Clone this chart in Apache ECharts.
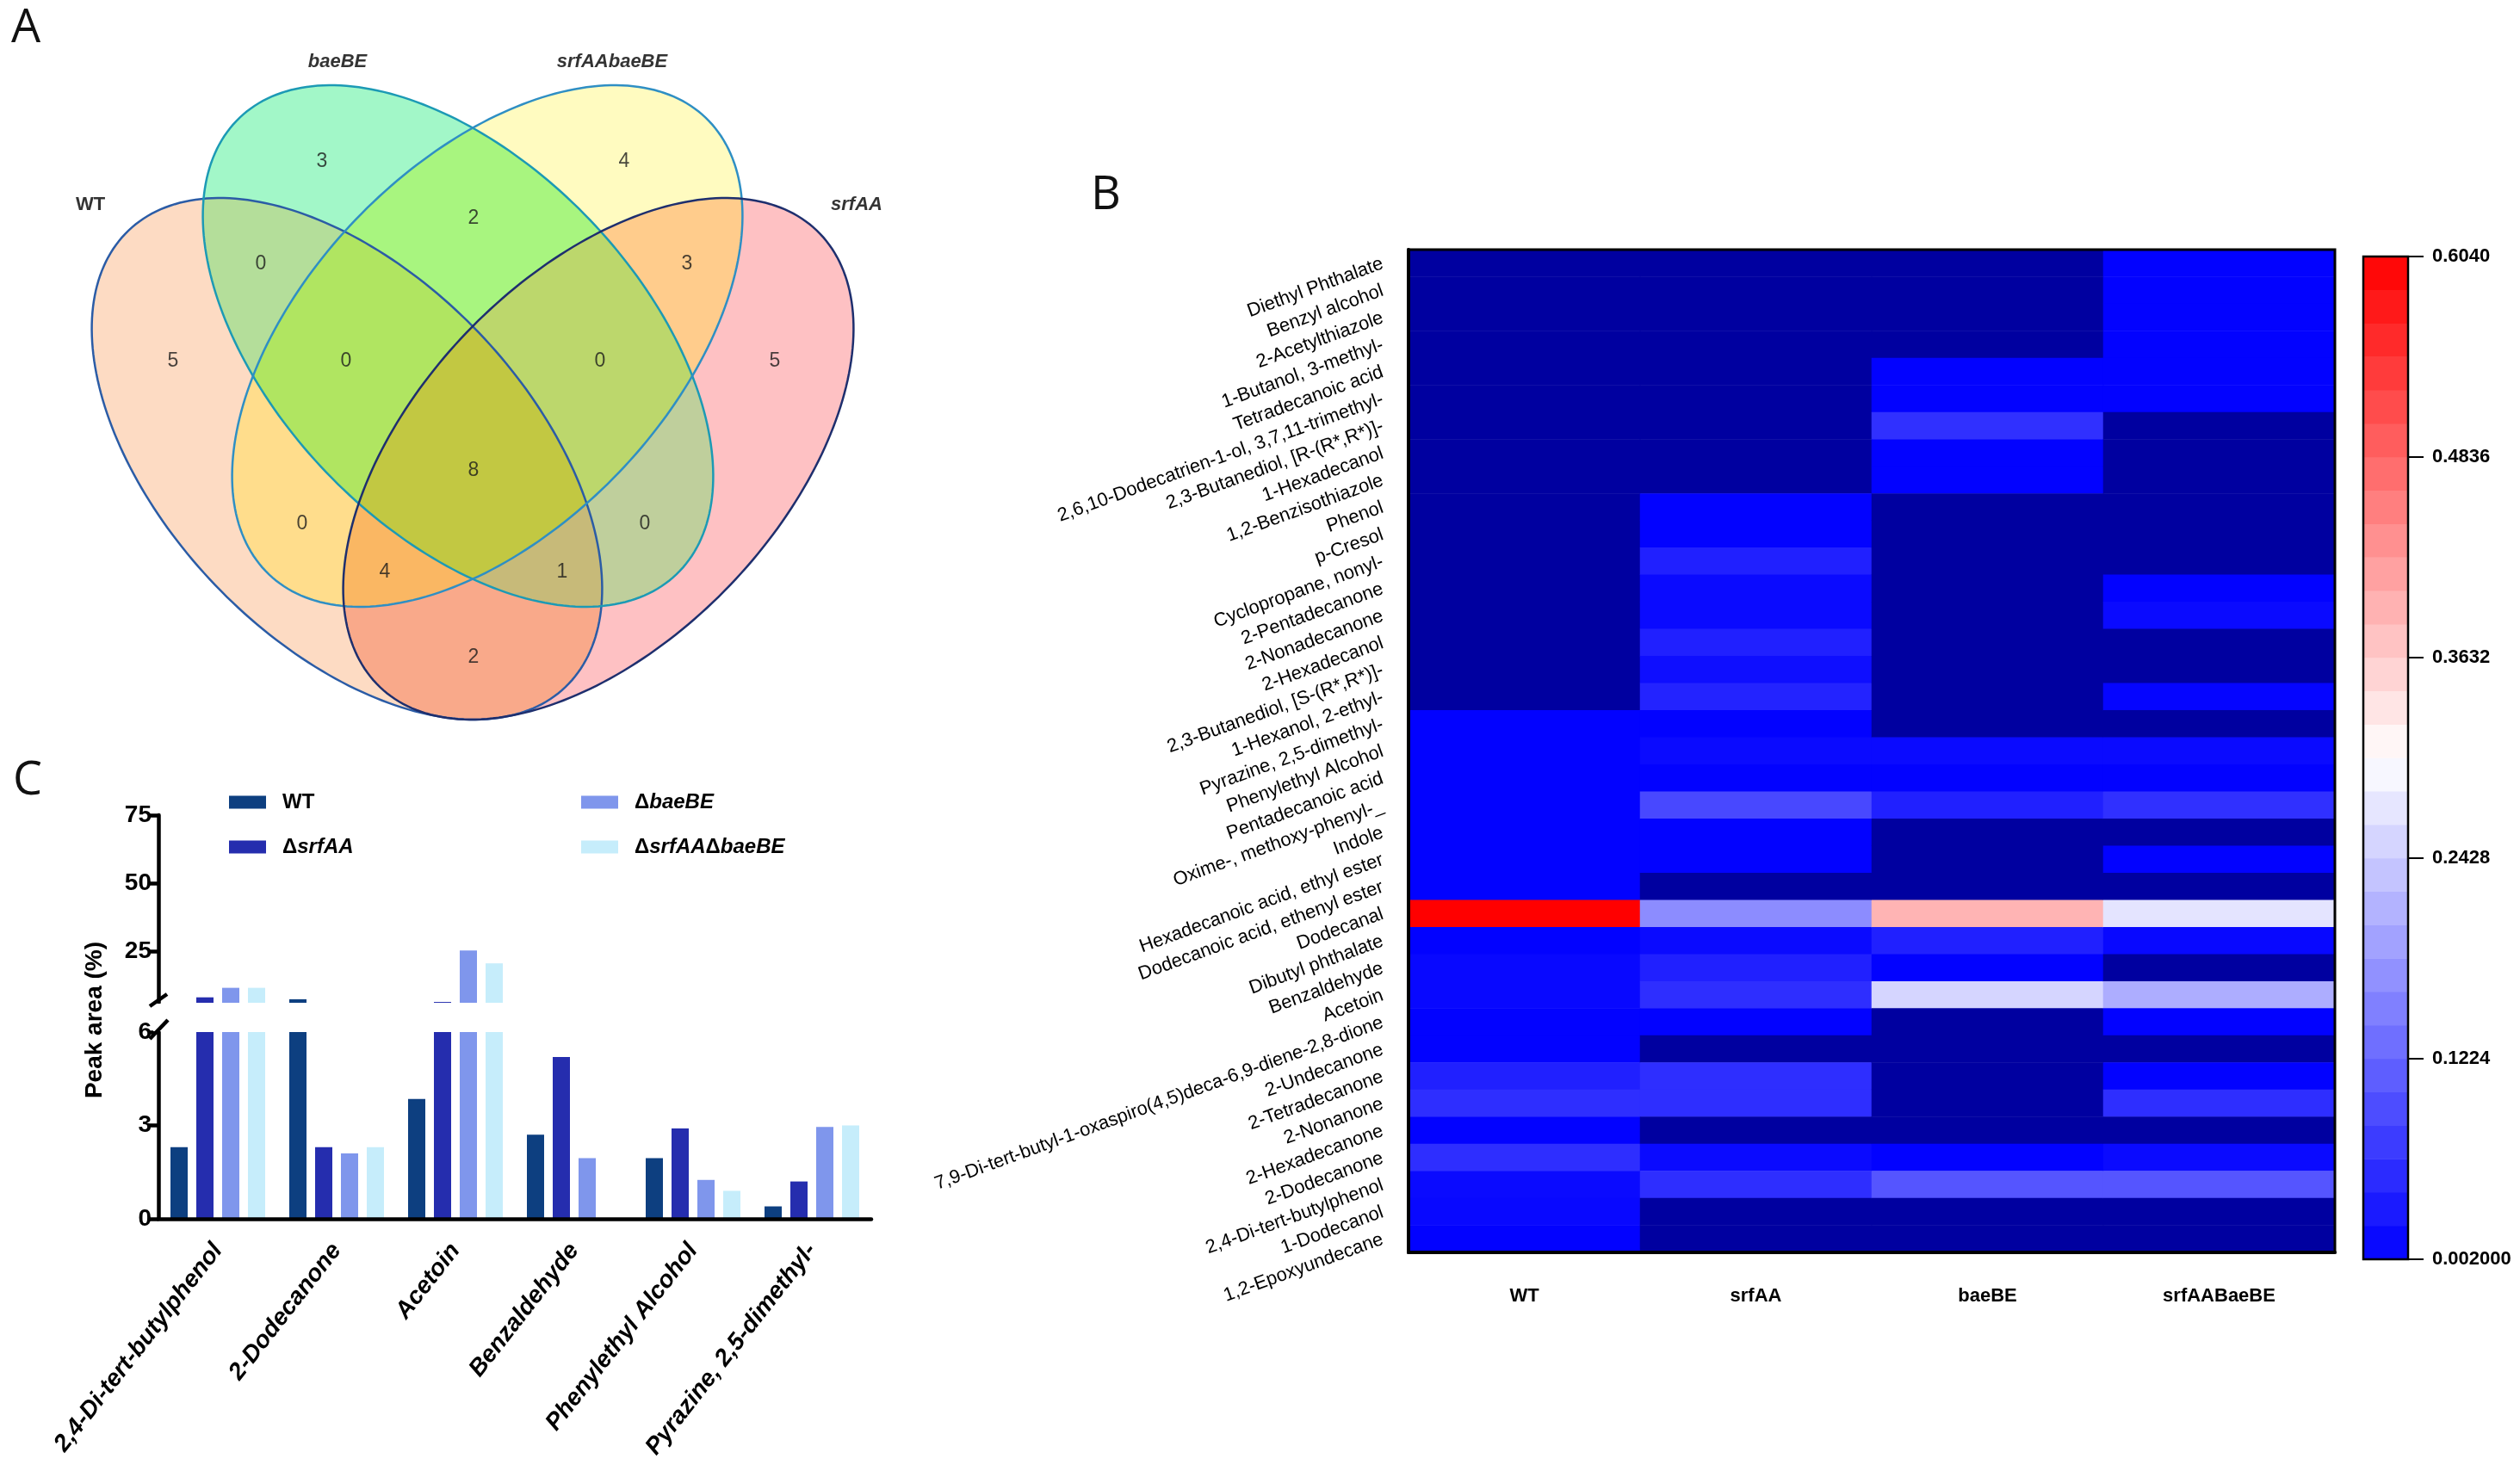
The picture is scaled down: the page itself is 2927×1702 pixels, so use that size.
<!DOCTYPE html>
<html><head><meta charset="utf-8">
<script src="https://cdn.jsdelivr.net/npm/echarts@6/dist/echarts.min.js"></script>
<style>html,body{margin:0;padding:0;background:#fff}#c{width:2927px;height:1702px}</style>
</head><body><div id="c"></div>
<script>
// ================= DATA =================
// Panel A – Venn diagram (sets encoded as bits: WT=1, baeBE=2, srfAAbaeBE=4, srfAA=8)
const vennSets = ['WT', 'baeBE', 'srfAAbaeBE', 'srfAA'];
const vennRegionMasks = [2, 4, 6, 3, 12, 1, 7, 14, 8, 15, 5, 10, 13, 11, 9];
const vennCounts = [3, 4, 2, 0, 3, 5, 0, 0, 5, 8, 0, 0, 4, 1, 2];

// Panel B – heatmap
const strains = ['WT', 'srfAA', 'baeBE', 'srfAABaeBE'];
const compounds = ['Diethyl Phthalate', 'Benzyl alcohol', '2-Acetylthiazole', '1-Butanol, 3-methyl-',
  'Tetradecanoic acid', '2,6,10-Dodecatrien-1-ol, 3,7,11-trimethyl-', '2,3-Butanediol, [R-(R*,R*)]-',
  '1-Hexadecanol', '1,2-Benzisothiazole', 'Phenol', 'p-Cresol', 'Cyclopropane, nonyl-',
  '2-Pentadecanone', '2-Nonadecanone', '2-Hexadecanol', '2,3-Butanediol, [S-(R*,R*)]-',
  '1-Hexanol, 2-ethyl-', 'Pyrazine, 2,5-dimethyl-', 'Phenylethyl Alcohol', 'Pentadecanoic acid',
  'Oxime-, methoxy-phenyl-_', 'Indole', 'Hexadecanoic acid, ethyl ester', 'Dodecanoic acid, ethenyl ester',
  'Dodecanal', 'Dibutyl phthalate', 'Benzaldehyde', 'Acetoin',
  '7,9-Di-tert-butyl-1-oxaspiro(4,5)deca-6,9-diene-2,8-dione', '2-Undecanone', '2-Tetradecanone',
  '2-Nonanone', '2-Hexadecanone', '2-Dodecanone', '2,4-Di-tert-butylphenol', '1-Dodecanol',
  '1,2-Epoxyundecane'];
const heatWT = [0,0,0,0,0,0,0,0,0,0,0,0,0,0,0,0,0,
  0.004,0.004,0.004,0.004,0.004,0.004,0.004,0.604,0.004,0.011,0.011,0.004,0.004,0.040,0.056,0.004,0.056,0.014,0.011,0.004];
const heatSrfAA = [0,0,0,0,0,0,0,0,0,0.004,0.004,0.040,0.014,0.014,0.040,0.018,0.043,
  0.004,0.014,0.004,0.087,0.004,0.004,0,0.167,0.014,0.040,0.056,0.004,0,0.056,0.056,0,0.014,0.056,0,0];
const heatBaeBE = [0,0,0,0,0.004,0.004,0.059,0.004,0.004,0,0,0,0,0,0,0,0,
  0,0.014,0.004,0.040,0,0,0,0.392,0.040,0.004,0.253,0,0,0,0,0,0.004,0.102,0,0];
const heatSrfAABaeBE = [0.004,0.004,0.004,0.004,0.004,0.004,0,0,0,0,0,0,0.004,0.014,0,0,0.008,
  0,0.014,0.004,0.059,0,0.004,0,0.271,0.011,0,0.206,0.004,0,0.004,0.056,0,0.014,0.102,0,0];
const colorbarTicks = ['0.002000', '0.1224', '0.2428', '0.3632', '0.4836', '0.6040'];
const colorMin = 0.002, colorMax = 0.604, colorSteps = 30;

// Panel C – bar chart (peak area %)
const barCategories = ['2,4-Di-tert-butylphenol', '2-Dodecanone', 'Acetoin', 'Benzaldehyde',
  'Phenylethyl Alcohol', 'Pyrazine, 2,5-dimethyl-'];
const barNames = ['WT', 'ΔsrfAA', 'ΔbaeBE', 'ΔsrfAAΔbaeBE'];
const peakWT = [2.3, 7.3, 3.85, 2.7, 1.95, 0.4];
const peakSrfAA = [8.0, 2.3, 6.3, 5.2, 2.9, 1.2];
const peakBaeBE = [11.5, 2.1, 25.2, 1.95, 1.25, 2.95];
const peakSrfAABaeBE = [11.5, 2.3, 20.5, 0, 0.9, 3.0];
const upperTicks = [25, 50, 75];

// ================= LAYOUT / STYLE =================
const FONT = 'Liberation Sans, Arial, Helvetica, sans-serif';
// ellipse geometry in panel-A pixel space: cx, cy, semi-major, semi-minor, angle
const vennGeom = [[403,533,367,212,46.25],[532,402,367,212,46.25],[566,402,367,212,-46.25],[695,533,367,212,-46.25]];
const vennStroke = ['#2B5CA6', '#1C9AB5', '#2F8FC4', '#1E2F6E'];
// fill colour of each region, keyed by set mask; painted from singles up to the full intersection
const vennPaintOrder = [1, 2, 4, 8, 3, 6, 12, 9, 5, 10, 7, 14, 13, 11, 15];
const vennRegionColor = { 1: '#FDDBC3', 2: '#A2F7C8', 4: '#FFFBC0', 8: '#FEC1C3',
  3: '#B4DE9A', 6: '#A8F57F', 12: '#FFCC8C', 9: '#F9A98A', 5: '#FFDD8C', 10: '#BFCF9C',
  7: '#B0E561', 14: '#BCD76C', 13: '#FAB763', 11: '#C7BA79', 15: '#C2C842' };
const vennCountPos = [[374,188],[725,188],[550,254],[303,307],[798,307],[201,420],[402,420],[697,420],[900,420],
  [550,547],[351,609],[749,609],[447,665],[653,665],[550,764]];
const vennLabelPos = [[105,238],[392,72],[711,72],[995,238]];
const barColors = ['#0D3F80', '#252DAE', '#7F96EC', '#C6EDFB'];

// ================= BUILD =================
const heatCols = [heatWT, heatSrfAA, heatBaeBE, heatSrfAABaeBE];
const heatData = [];
heatCols.forEach((col, c) => col.forEach((v, r) => heatData.push([c, r, v])));
const cbBins = [], cbData = [];
for (let k = 0; k < colorSteps; k++) {
  cbBins.push(String(k));
  cbData.push([0, k, colorMin + (k + 0.5) * (colorMax - colorMin) / colorSteps]);
}
const peakCols = [peakWT, peakSrfAA, peakBaeBE, peakSrfAABaeBE];

function ellipsePts(api, g) {
  const th = g[4] * Math.PI / 180, c = Math.cos(th), s = Math.sin(th), pts = [];
  for (let i = 0; i < 240; i++) {
    const t = i / 240 * 2 * Math.PI;
    const x = g[0] + g[2] * Math.cos(t) * c - g[3] * Math.sin(t) * s;
    const y = g[1] + g[2] * Math.cos(t) * s + g[3] * Math.sin(t) * c;
    pts.push(api.coord([x, y]));
  }
  return pts;
}
// intersection of two convex polygons (Sutherland–Hodgman)
function clipConvex(subject, clip) {
  let area = 0;
  for (let i = 0; i < clip.length; i++) {
    const a = clip[i], b = clip[(i + 1) % clip.length];
    area += a[0] * b[1] - b[0] * a[1];
  }
  const sg = area > 0 ? 1 : -1;
  let out = subject;
  for (let i = 0; i < clip.length && out.length; i++) {
    const A = clip[i], B = clip[(i + 1) % clip.length];
    const side = P => sg * ((B[0] - A[0]) * (P[1] - A[1]) - (B[1] - A[1]) * (P[0] - A[0]));
    const inp = out; out = [];
    for (let j = 0; j < inp.length; j++) {
      const P = inp[j], Q = inp[(j + 1) % inp.length];
      const dp = side(P), dq = side(Q);
      const X = () => { const t = dp / (dp - dq); return [P[0] + t * (Q[0] - P[0]), P[1] + t * (Q[1] - P[1])]; };
      if (dq >= 0) { if (dp < 0) out.push(X()); out.push(Q); }
      else if (dp >= 0) out.push(X());
    }
  }
  return out;
}
function regionPolygon(api, mask) {
  let poly = null;
  vennGeom.forEach((g, k) => {
    if (mask & (1 << k)) {
      const e = ellipsePts(api, g);
      poly = poly ? clipConvex(poly, e) : e;
    }
  });
  return poly || [];
}
const gv = api => [api.value(0), api.value(1), api.value(2), api.value(3), api.value(4)];

const series = [
  { type: 'custom', xAxisIndex: 0, yAxisIndex: 0, silent: true, z: 1,
    data: vennPaintOrder.map(m => [0, 0, m]),
    renderItem: (p, api) => { const m = api.value(2);
      return { type: 'polygon', shape: { points: regionPolygon(api, m) },
        style: { fill: vennRegionColor[m], stroke: vennRegionColor[m], lineWidth: 0.6 } }; } },
  { type: 'custom', xAxisIndex: 0, yAxisIndex: 0, silent: true, z: 3,
    data: vennGeom.map(g => g.slice()),
    renderItem: (p, api) => ({ type: 'polygon', shape: { points: ellipsePts(api, gv(api)) },
      style: { fill: 'none', stroke: vennStroke[p.dataIndex], lineWidth: 2.5 } }) },
  { type: 'scatter', xAxisIndex: 0, yAxisIndex: 0, silent: true, z: 5, symbolSize: 1,
    itemStyle: { color: 'rgba(0,0,0,0)' },
    data: vennCountPos.map((p, i) => ({ name: String(vennRegionMasks[i]), value: [p[0], p[1], vennCounts[i]] })),
    label: { show: true, position: 'inside', formatter: q => q.value[2], fontSize: 23, color: '#1a1a1a', fontFamily: FONT } },
  { type: 'scatter', xAxisIndex: 0, yAxisIndex: 0, silent: true, z: 5, symbolSize: 1,
    itemStyle: { color: 'rgba(0,0,0,0)' },
    data: vennLabelPos.map((p, i) => ({ name: vennSets[i], value: p,
      label: { fontStyle: i === 0 ? 'normal' : 'italic' } })),
    label: { show: true, position: 'inside', formatter: '{b}', fontSize: 22, fontWeight: 'bold', color: '#000', fontFamily: FONT } },
  { type: 'heatmap', xAxisIndex: 1, yAxisIndex: 1, data: heatData, silent: true,
    itemStyle: { borderWidth: 0 }, emphasis: { disabled: true } },
  { type: 'heatmap', xAxisIndex: 3, yAxisIndex: 3, data: cbData, silent: true,
    itemStyle: { borderWidth: 0 }, emphasis: { disabled: true } }
];
barNames.forEach((n, i) => series.push({ type: 'bar', name: n, xAxisIndex: 4, yAxisIndex: 5,
  data: peakCols[i], barWidth: 20, barGap: '50%', itemStyle: { color: barColors[i] }, silent: true }));
barNames.forEach((n, i) => series.push({ type: 'bar', name: n, xAxisIndex: 5, yAxisIndex: 6,
  data: peakCols[i], barWidth: 20, barGap: '50%', itemStyle: { color: barColors[i] }, silent: true }));

const legendCommon = { orient: 'vertical', itemWidth: 43, itemHeight: 15, itemGap: 28, icon: 'rect',
  selectedMode: false,
  formatter: n => n.replace(/(srfAA|baeBE)/g, '{i|$1}'),
  textStyle: { fontSize: 24, fontWeight: 'bold', color: '#000', fontFamily: FONT, padding: [0, 0, 0, 14],
    rich: { i: { fontSize: 24, fontWeight: 'bold', fontStyle: 'italic', color: '#000', fontFamily: FONT } } } };

const option = {
  animation: false,
  backgroundColor: '#fff',
  textStyle: { fontFamily: FONT },
  title: [
    { text: 'A', left: 8, top: 2, textStyle: { fontSize: 54, fontWeight: 'normal', fontFamily: 'Open Sans', color: '#111' } },
    { text: 'B', left: 1262, top: 196, textStyle: { fontSize: 54, fontWeight: 'normal', fontFamily: 'Open Sans', color: '#111' } },
    { text: 'C', left: 10, top: 876, textStyle: { fontSize: 54, fontWeight: 'normal', fontFamily: 'Open Sans', color: '#111' } }
  ],
  legend: [
    Object.assign({ data: [barNames[0], barNames[1]], left: 261, top: 915 }, legendCommon),
    Object.assign({ data: [barNames[2], barNames[3]], left: 670, top: 915 }, legendCommon)
  ],
  visualMap: [{ type: 'continuous', show: false, min: colorMin - 0.0001, max: colorMax,
    range: [colorMin, colorMax], dimension: 2,
    seriesIndex: [4, 5], inRange: { color: ['#0000FF', '#FFFFFF', '#FF0000'] },
    outOfRange: { color: ['#0000A0'] } }],
  grid: [
    { left: 0, top: 0, width: 1100, height: 900 },
    { left: 1636, top: 290, width: 1076, height: 1165, show: true, borderColor: '#000', borderWidth: 3, z: 10 },
    { left: 2745, top: 298, width: 52, height: 1165, show: true, borderColor: '#000', borderWidth: 2.5, z: 10 },
    { left: 184, top: 947, width: 828, height: 218 },
    { left: 184, top: 1199, width: 828, height: 217 }
  ],
  xAxis: [
    { type: 'value', gridIndex: 0, min: 0, max: 1100, show: false },
    { type: 'category', gridIndex: 1, data: strains, position: 'bottom', z: 11,
      axisLine: { lineStyle: { color: '#000', width: 4 } },
      axisTick: { alignWithLabel: true, length: 25, lineStyle: { color: '#000', width: 3 } },
      axisLabel: { color: '#000', fontSize: 22, fontWeight: 'bold', margin: 40, interval: 0 },
      splitLine: { show: false } },
    { type: 'category', gridIndex: 1, data: strains, show: false },
    { type: 'category', gridIndex: 2, data: ['cb'], show: false },
    { type: 'category', gridIndex: 3, data: barCategories, show: false },
    { type: 'category', gridIndex: 4, data: barCategories, z: 11,
      axisLine: { lineStyle: { color: '#000', width: 4.5 } },
      axisTick: { alignWithLabel: true, interval: 0, length: 20, lineStyle: { color: '#000', width: 4.5 } },
      axisLabel: { color: '#000', fontSize: 28, fontWeight: 'bold', fontStyle: 'italic', rotate: 52, margin: 32, interval: 0 } }
  ],
  yAxis: [
    { type: 'value', gridIndex: 0, min: 0, max: 900, inverse: true, show: false },
    { type: 'category', gridIndex: 1, data: compounds, inverse: true, z: 11,
      axisLine: { lineStyle: { color: '#000', width: 4 } },
      axisTick: { alignWithLabel: true, interval: 0, length: 18, lineStyle: { color: '#000', width: 3.5 } },
      axisLabel: { color: '#000', fontSize: 22, rotate: 20, margin: 30, interval: 0 },
      splitLine: { show: false } },
    { type: 'category', gridIndex: 2, data: cbBins, show: false },
    { type: 'category', gridIndex: 2, data: cbBins, show: false },
    { type: 'value', gridIndex: 2, min: 0, max: 5, interval: 1, position: 'right', z: 11,
      axisLine: { show: false },
      axisTick: { show: true, length: 18, lineStyle: { color: '#000', width: 2 } },
      axisLabel: { color: '#000', fontSize: 22, fontWeight: 'bold', margin: 28, formatter: v => colorbarTicks[Math.round(v)] },
      splitLine: { show: false } },
    { type: 'value', gridIndex: 3, min: 6, max: 75, z: 11,
      axisLine: { show: true, lineStyle: { color: '#000', width: 4.5 } },
      axisTick: { show: true, length: 12, customValues: upperTicks, lineStyle: { color: '#000', width: 4.5 } },
      axisLabel: { color: '#000', fontSize: 28, fontWeight: 'bold', margin: 8, customValues: upperTicks },
      splitLine: { show: false } },
    { type: 'value', gridIndex: 4, min: 0, max: 6, interval: 3, z: 11,
      axisLine: { show: true, lineStyle: { color: '#000', width: 4.5 } },
      axisTick: { show: true, length: 12, lineStyle: { color: '#000', width: 4.5 } },
      axisLabel: { color: '#000', fontSize: 28, fontWeight: 'bold', margin: 8 },
      splitLine: { show: false } }
  ],
  graphic: [
    { type: 'text', x: 110, y: 1185, rotation: Math.PI / 2,
      style: { text: 'Peak area (%)', fontSize: 28, fontWeight: 'bold', fill: '#000', fontFamily: FONT,
        align: 'center', verticalAlign: 'middle' } }
  ],
  series: series
};

const chart = echarts.init(document.getElementById('c'), null, { width: 2927, height: 1702 });
chart.setOption(option);
// axis-break marks between the two bar-chart segments
const axisX = chart.convertToPixel({ xAxisIndex: 5 }, 0) - 69;
const yUp = chart.convertToPixel({ yAxisIndex: 5 }, 6);
const yLo = chart.convertToPixel({ yAxisIndex: 6 }, 6);
chart.setOption({ graphic: [
  option.graphic[0],
  { type: 'rect', shape: { x: axisX - 6, y: yUp + 1, width: 12, height: yLo - yUp - 2 }, style: { fill: '#fff' }, z: 100 },
  { type: 'line', shape: { x1: axisX - 10, y1: yUp + 4, x2: axisX + 10, y2: yUp - 10 }, style: { stroke: '#000', lineWidth: 4.5 }, z: 101 },
  { type: 'line', shape: { x1: axisX - 10, y1: yLo + 8, x2: axisX + 11, y2: yLo - 14 }, style: { stroke: '#000', lineWidth: 4.5 }, z: 101 }
] });
</script>
</body></html>
